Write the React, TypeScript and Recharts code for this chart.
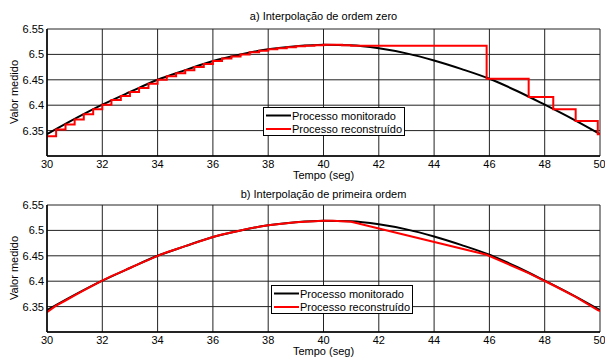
import { LineChart, Line, XAxis, YAxis, CartesianGrid } from "recharts";

const FONT = "'Liberation Sans', Arial, Helvetica, sans-serif";

const curveTimes = [30, 31, 32, 33, 34, 35, 36, 37, 38, 39, 40, 41, 42, 43, 44, 45, 46, 47, 48, 49, 50];
const curveValues = [
  6.343, 6.373, 6.401, 6.426, 6.45, 6.469, 6.487, 6.5, 6.51, 6.516, 6.519,
  6.518, 6.512, 6.502, 6.488, 6.471, 6.452, 6.428, 6.401, 6.373, 6.343,
];

// samples kept for the reconstruction
const sampleTimes = [
  30, 30.33, 30.67, 31, 31.33, 31.67, 32, 32.33, 32.67, 33, 33.33, 33.67, 34, 34.33, 34.67, 35,
  35.33, 35.67, 36, 36.33, 36.67, 37, 37.33, 37.67, 38, 38.33, 38.67, 39, 39.33, 39.67, 40,
  40.33, 40.67, 41, 45.9, 47.42, 48.31, 49.12, 49.92, 50,
];
const sampleValues = [
  6.339, 6.352, 6.362, 6.372, 6.382, 6.392, 6.401, 6.41, 6.418, 6.426, 6.434, 6.442, 6.45, 6.457,
  6.463, 6.469, 6.475, 6.481, 6.487, 6.492, 6.496, 6.5, 6.504, 6.507, 6.51, 6.512, 6.514, 6.516,
  6.517, 6.518, 6.519, 6.519, 6.518, 6.517, 6.452, 6.416, 6.392, 6.369, 6.343, 6.341,
];

const xTicks = [30, 32, 34, 36, 38, 40, 42, 44, 46, 48, 50];
const yTicks = [6.35, 6.4, 6.45, 6.5, 6.55];

const curve = curveTimes.map((t, i) => ({ t, v: curveValues[i] }));
const samples = sampleTimes.map((t, i) => ({ t, v: sampleValues[i] }));

function LegendBox({ left, top }: { left: number; top: number }) {
  return (
    <svg width={143} height={30} style={{ position: "absolute", left, top, display: "block" }}>
      <rect x={0.5} y={0.5} width={141} height={28} fill="#fff" stroke="#000" />
      <line x1={3} x2={28} y1={8.5} y2={8.5} stroke="#000" strokeWidth={2} />
      <line x1={3} x2={28} y1={22} y2={22} stroke="#ff0000" strokeWidth={2} />
      <text x={29} y={12.5} fontSize={11} fill="#000" fontFamily={FONT}>Processo monitorado</text>
      <text x={29} y={26} fontSize={11} fill="#000" fontFamily={FONT}>Processo reconstruído</text>
    </svg>
  );
}

interface PanelProps {
  top: number;
  title: string;
  titleY: number;
  xLabelY: number;
  redType: "stepAfter" | "linear";
  legendLeft: number;
  legendTop: number;
}

function Panel({ top, title, titleY, xLabelY, redType, legendLeft, legendTop }: PanelProps) {
  return (
    <div style={{ position: "absolute", left: 0, top, width: 605, height: 182 }}>
      <div
        style={{
          position: "absolute", left: 47, width: 553, top: titleY - 7, textAlign: "center",
          fontSize: 11, lineHeight: "14px", color: "#000",
        }}
      >
        {title}
      </div>
      <div
        style={{
          position: "absolute", left: 47, width: 553, top: xLabelY - 7, textAlign: "center",
          fontSize: 11, lineHeight: "14px", color: "#000", zIndex: 2,
        }}
      >
        Tempo (seg)
      </div>
      <div
        style={{
          position: "absolute", left: 14 - 50, top: 92 - 7, width: 100, textAlign: "center",
          fontSize: 11, lineHeight: "14px", color: "#000", transform: "rotate(-90deg)",
        }}
      >
        Valor medido
      </div>
      <LineChart width={605} height={180} margin={{ top: 29, right: 5, bottom: 4, left: 7 }}>
        <CartesianGrid stroke="#222" strokeWidth={1} />
        <XAxis
          dataKey="t"
          type="number"
          domain={[30, 50]}
          ticks={xTicks}
          allowDataOverflow
          height={20}
          tickSize={0}
          tickMargin={4}
          tick={{ fontSize: 11, fill: "#000" }}
          axisLine={{ stroke: "#000", strokeWidth: 1.5 }}
        />
        <XAxis
          xAxisId="top"
          orientation="top"
          type="number"
          domain={[30, 50]}
          height={0}
          tick={false}
          tickLine={false}
          axisLine={{ stroke: "#000", strokeWidth: 1.5 }}
        />
        <YAxis
          type="number"
          domain={[6.3, 6.55]}
          ticks={yTicks}
          allowDataOverflow
          width={40}
          tickSize={0}
          tickMargin={3}
          tick={{ fontSize: 11, fill: "#000" }}
          axisLine={{ stroke: "#000", strokeWidth: 1.5 }}
        />
        <YAxis
          yAxisId="right"
          orientation="right"
          type="number"
          domain={[6.3, 6.55]}
          width={0}
          tick={false}
          tickLine={false}
          axisLine={{ stroke: "#000", strokeWidth: 1.5 }}
        />
        <Line
          data={curve}
          dataKey="v"
          type="monotone"
          stroke="#000"
          strokeWidth={2}
          dot={false}
          isAnimationActive={false}
        />
        <Line
          data={samples}
          dataKey="v"
          type={redType}
          stroke="#ff0000"
          strokeWidth={2}
          dot={false}
          isAnimationActive={false}
        />
      </LineChart>
      <LegendBox left={legendLeft} top={legendTop} />
    </div>
  );
}

export default function App() {
  return (
    <div
      style={{
        position: "absolute", left: 0, top: 0, width: 605, height: 358,
        background: "#fff", fontFamily: FONT, overflow: "hidden",
      }}
    >
      <Panel top={0} title="a) Interpolação de ordem zero" titleY={16} xLabelY={175} redType="stepAfter" legendLeft={263} legendTop={107} />
      <Panel top={176} title="b) Interpolação de primeira ordem" titleY={18} xLabelY={175} redType="linear" legendLeft={271} legendTop={109} />
    </div>
  );
}
